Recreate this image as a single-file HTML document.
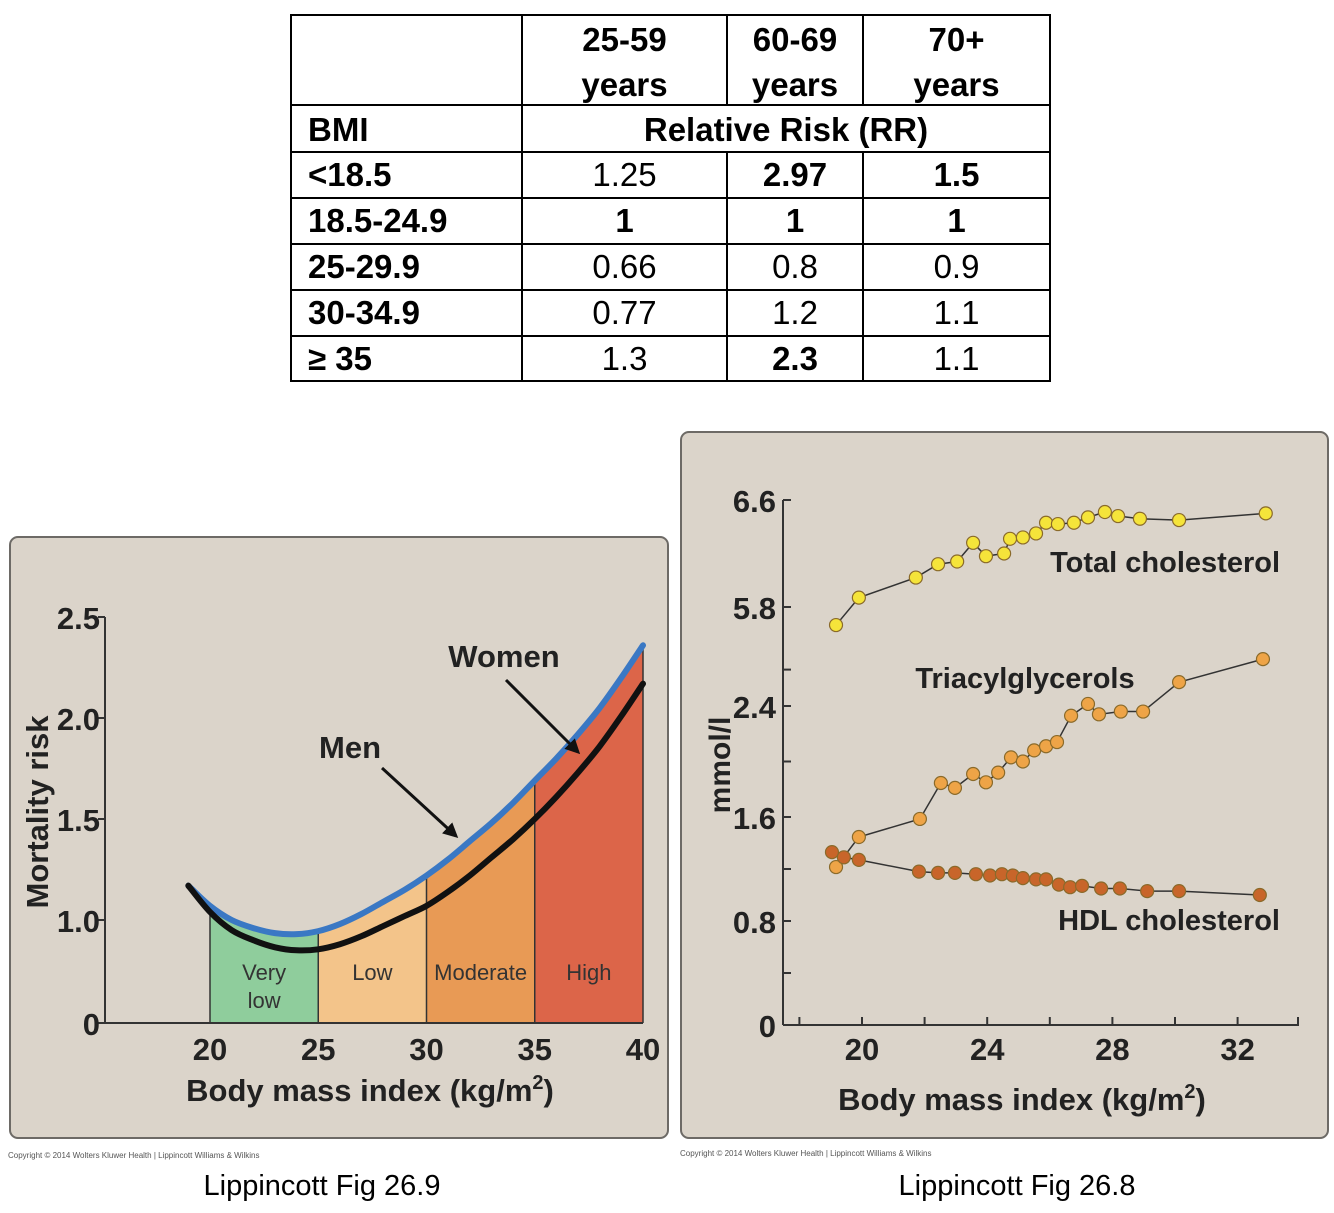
<!DOCTYPE html>
<html><head><meta charset="utf-8">
<style>
body{margin:0;background:#fff;width:1334px;height:1208px;overflow:hidden;font-family:"Liberation Sans",Arial,sans-serif}
svg text{font-family:"Liberation Sans",Arial,sans-serif}
</style></head>
<body>
<svg id="root" width="1334" height="1208" viewBox="0 0 1334 1208">
<g id="table"></g>
<g id="left"></g>
<g id="right"></g>
</svg>
<script>
// ---------- Table data ----------
const tableHeaders = ["25-59\nyears","60-69\nyears","70+\nyears"];
const tableRowLabels = ["<18.5","18.5-24.9","25-29.9","30-34.9","\u2265 35"];
const tableValues = [["1.25","2.97","1.5"],["1","1","1"],["0.66","0.8","0.9"],["0.77","1.2","1.1"],["1.3","2.3","1.1"]];
const tableBold = [[0,1,1],[1,1,1],[0,0,0],[0,0,0],[0,1,0]];

// ---------- Left chart data ----------
const bmiPoints = [19,20,21,22,23,24,25,26,27,28,29,30,31,32,33,34,35,36,37,38,39,40];
const womenRisk = [1.17,1.07,1.0,0.96,0.935,0.93,0.945,0.98,1.03,1.09,1.15,1.22,1.30,1.39,1.48,1.58,1.69,1.80,1.92,2.05,2.20,2.36];
const menRisk = [1.17,1.04,0.95,0.90,0.865,0.85,0.855,0.88,0.92,0.97,1.02,1.07,1.14,1.22,1.31,1.40,1.50,1.61,1.73,1.86,2.01,2.17];
const bandEdges = [20,25,30,35,40];
const bandLabels = [["Very","low"],["Low"],["Moderate"],["High"]];
const bandColors = ["#8fcd9c","#f3c48a","#e89a55","#dc6549"];
const leftYTicks = [0,1.0,1.5,2.0,2.5];
const leftYTickLabels = ["0","1.0","1.5","2.0","2.5"];
const leftXTicks = [20,25,30,35,40];

// ---------- Right chart data ----------
const totalBmi = [19.17,19.9,21.72,22.43,23.04,23.55,23.96,24.54,24.73,25.14,25.56,25.88,26.26,26.77,27.22,27.76,28.18,28.88,30.13,32.9];
const totalChol = [5.18,5.87,6.02,6.12,6.14,6.28,6.18,6.20,6.31,6.32,6.35,6.43,6.42,6.43,6.47,6.51,6.48,6.46,6.45,6.50];
const trigBmi = [19.17,19.9,21.85,22.52,22.97,23.55,23.96,24.35,24.76,25.14,25.5,25.88,26.23,26.68,27.22,27.57,28.27,28.98,30.13,32.81];
const trigVal = [1.215,1.446,1.585,1.845,1.81,1.91,1.85,1.92,2.03,2.00,2.08,2.11,2.14,2.33,2.47,2.34,2.36,2.36,3.22,4.01];
const hdlBmi = [19.04,19.42,19.9,21.82,22.43,22.97,23.64,24.09,24.47,24.82,25.14,25.56,25.88,26.29,26.65,27.03,27.64,28.24,29.11,30.13,32.71];
const hdlVal = [1.33,1.29,1.27,1.18,1.17,1.17,1.16,1.15,1.16,1.15,1.13,1.12,1.12,1.08,1.06,1.07,1.05,1.05,1.03,1.03,1.00];
const rightYTicks = [0,0.8,1.6,2.4,5.8,6.6];
const rightYTickLabels = ["0","0.8","1.6","2.4","5.8","6.6"];
const rightMinorTicks = [0.4,1.2,2.0,3.65];
const rightXTicks = [18,20,22,24,26,28,30,32];
const rightXLabels = [20,24,28,32];

const NS="http://www.w3.org/2000/svg";
function el(parent,tag,attrs,text){const e=document.createElementNS(NS,tag);for(const k in attrs)e.setAttribute(k,attrs[k]);if(text!==undefined)e.textContent=text;parent.appendChild(e);return e;}

// ---------- Table ----------
(function(){
const g=document.getElementById('table');
const cx=[291,522,727,863,1050];
const ry=[15,105,152,198,244,290,336,381];
el(g,'rect',{x:291,y:15,width:759,height:366,fill:'#fff',stroke:'#000','stroke-width':2});
for(let i=1;i<ry.length-1;i++){el(g,'line',{x1:291,x2:1050,y1:ry[i],y2:ry[i],stroke:'#000','stroke-width':2});}
el(g,'line',{x1:522,x2:522,y1:15,y2:381,stroke:'#000','stroke-width':2});
for(let j=2;j<4;j++){
  el(g,'line',{x1:cx[j],x2:cx[j],y1:15,y2:105,stroke:'#000','stroke-width':2});
  el(g,'line',{x1:cx[j],x2:cx[j],y1:152,y2:381,stroke:'#000','stroke-width':2});
}
tableHeaders.forEach((h,j)=>{
  const xm=(cx[j+1]+cx[j+2])/2;
  h.split("\n").forEach((ln,k)=>{
    const t=el(g,'text',{x:xm,y:51+k*45,'text-anchor':'middle','font-size':33,'font-weight':'bold'},ln);
    
    
  });
});
let t=el(g,'text',{x:308,y:141,'font-size':33,'font-weight':'bold'},"BMI");

t=el(g,'text',{x:786,y:141,'text-anchor':'middle','font-size':33,'font-weight':'bold'},"Relative Risk (RR)");

tableRowLabels.forEach((lab,i)=>{
  const y=ry[i+2]+34;
  const r=el(g,'text',{x:308,y:y,'font-size':33,'font-weight':'bold'},lab);
  
  tableValues[i].forEach((v,j)=>{
    const c=el(g,'text',{x:(cx[j+1]+cx[j+2])/2,y:y,'text-anchor':'middle','font-size':33,'font-weight':tableBold[i][j]?'bold':'normal'},v);
    
  });
});
})();

// ---------- Left chart ----------
(function(){
const g=document.getElementById('left');
el(g,'rect',{x:10,y:537,width:658,height:601,rx:8,fill:'#dbd4ca',stroke:'#6d6a66','stroke-width':2});
const xs=v=>210+(v-20)*21.65;
const ys=v=>v<=0?1023:920-(v-1)*202;
function interp(xa,ya,x){for(let i=0;i<xa.length-1;i++){if(x>=xa[i]&&x<=xa[i+1]){const t=(x-xa[i])/(xa[i+1]-xa[i]);return ya[i]+t*(ya[i+1]-ya[i]);}}return ya[ya.length-1];}
function smooth(xa,ya){const P=xa.map((x,i)=>[xs(x),ys(ya[i])]);let d=`M${P[0][0]},${P[0][1]}`;
 for(let i=0;i<P.length-1;i++){const p0=P[Math.max(0,i-1)],p1=P[i],p2=P[i+1],p3=P[Math.min(P.length-1,i+2)];
 d+=` C${p1[0]+(p2[0]-p0[0])/6},${p1[1]+(p2[1]-p0[1])/6} ${p2[0]-(p3[0]-p1[0])/6},${p2[1]-(p3[1]-p1[1])/6} ${p2[0]},${p2[1]}`;}return d;}
for(let b=0;b<bandEdges.length-1;b++){
  const a=bandEdges[b],c=bandEdges[b+1];let pts=[];
  for(let x=a;x<=c+1e-9;x+=0.25){pts.push(`${xs(x)},${ys(interp(bmiPoints,womenRisk,x))}`);}
  pts.push(`${xs(c)},1023`);pts.push(`${xs(a)},1023`);
  const p=el(g,'polygon',{points:pts.join(' '),fill:bandColors[b]});
  
  el(g,'line',{x1:xs(a),x2:xs(a),y1:ys(interp(bmiPoints,womenRisk,a)),y2:1023,stroke:'#333','stroke-width':1.5});
  const mid=(xs(a)+xs(c))/2;
  bandLabels[b].forEach((ln,k)=>{
    const tt=el(g,'text',{x:mid,y:980+k*28,'text-anchor':'middle','font-size':22,fill:'#333'},ln);
    
  });
}
el(g,'line',{x1:xs(40),x2:xs(40),y1:ys(womenRisk[womenRisk.length-1]),y2:1023,stroke:'#333','stroke-width':1.5});
el(g,'line',{x1:105,x2:105,y1:617,y2:1023,stroke:'#333','stroke-width':2});
el(g,'line',{x1:105,x2:643,y1:1023,y2:1023,stroke:'#333','stroke-width':2});
leftYTicks.forEach((v,i)=>{
  el(g,'line',{x1:98,x2:105,y1:ys(v),y2:ys(v),stroke:'#333','stroke-width':2});
  const tt=el(g,'text',{x:100,y:ys(v)+12,'text-anchor':'end','font-size':31,'font-weight':'bold',fill:'#222'},leftYTickLabels[i]);
  
});
leftXTicks.forEach(v=>{
  const tt=el(g,'text',{x:xs(v),y:1060,'text-anchor':'middle','font-size':31,'font-weight':'bold',fill:'#222'},String(v));
  
});
let tt=el(g,'text',{x:370,y:1101,'text-anchor':'middle','font-size':31,'font-weight':'bold',fill:'#222'},"Body mass index (kg/m");

el(tt,'tspan',{'font-size':20,dy:-12},"2");el(tt,'tspan',{dy:12},")");
tt=el(g,'text',{x:0,y:0,'text-anchor':'middle','font-size':31,'font-weight':'bold',fill:'#222',transform:'translate(48,812) rotate(-90)'},"Mortality risk");

let w=el(g,'path',{d:smooth(bmiPoints,womenRisk),fill:'none',stroke:'#3a78c4','stroke-width':6,'stroke-linecap':'round'});

let m=el(g,'path',{d:smooth(bmiPoints,menRisk),fill:'none',stroke:'#111','stroke-width':6,'stroke-linecap':'round'});

tt=el(g,'text',{x:350,y:758,'text-anchor':'middle','font-size':31,'font-weight':'bold',fill:'#222'},"Men");

tt=el(g,'text',{x:504,y:667,'text-anchor':'middle','font-size':31,'font-weight':'bold',fill:'#222'},"Women");

el(g,'defs',{}).innerHTML='<marker id="ah" viewBox="0 0 10 10" refX="8" refY="5" markerWidth="5" markerHeight="5" orient="auto"><path d="M0,0L10,5L0,10z" fill="#111"/></marker>';
el(g,'line',{x1:382,y1:768,x2:456,y2:836,stroke:'#111','stroke-width':3,'marker-end':'url(#ah)'});
el(g,'line',{x1:506,y1:680,x2:578,y2:752,stroke:'#111','stroke-width':3,'marker-end':'url(#ah)'});
tt=el(g,'text',{x:8,y:1158,'font-size':8,fill:'#555'},"Copyright \u00a9 2014 Wolters Kluwer Health | Lippincott Williams & Wilkins");

tt=el(g,'text',{x:322,y:1195,'text-anchor':'middle','font-size':29,fill:'#000'},"Lippincott Fig 26.9");

})();

// ---------- Right chart ----------
(function(){
const g=document.getElementById('right');
el(g,'rect',{x:681,y:432,width:647,height:706,rx:8,fill:'#dbd4ca',stroke:'#6d6a66','stroke-width':2});
const xs=v=>862+(v-20)*31.3;
const tv=[0,0.8,1.6,2.4,5.8,6.6],tp=[1025,921,817,706,607,500];
const ys=v=>{for(let i=0;i<tv.length-1;i++){if(v<=tv[i+1]||i==tv.length-2){const t=(v-tv[i])/(tv[i+1]-tv[i]);return tp[i]+t*(tp[i+1]-tp[i]);}}};
el(g,'line',{x1:783,x2:783,y1:500,y2:1025,stroke:'#333','stroke-width':2});
el(g,'line',{x1:783,x2:1299,y1:1025,y2:1025,stroke:'#333','stroke-width':2});
rightYTicks.forEach((v,i)=>{
  el(g,'line',{x1:783,x2:791,y1:ys(v),y2:ys(v),stroke:'#333','stroke-width':2});
  const tt=el(g,'text',{x:776,y:ys(v)+12,'text-anchor':'end','font-size':31,'font-weight':'bold',fill:'#222'},rightYTickLabels[i]);
  
});
rightMinorTicks.forEach(v=>{el(g,'line',{x1:783,x2:791,y1:ys(v),y2:ys(v),stroke:'#333','stroke-width':2});});
rightXTicks.forEach(v=>{el(g,'line',{x1:xs(v),x2:xs(v),y1:1017,y2:1025,stroke:'#333','stroke-width':2});});
el(g,'line',{x1:1298,x2:1298,y1:1017,y2:1025,stroke:'#333','stroke-width':2});
rightXLabels.forEach(v=>{
  const tt=el(g,'text',{x:xs(v),y:1060,'text-anchor':'middle','font-size':31,'font-weight':'bold',fill:'#222'},String(v));
  
});
let tt=el(g,'text',{x:1022,y:1110,'text-anchor':'middle','font-size':31,'font-weight':'bold',fill:'#222'},"Body mass index (kg/m");

el(tt,'tspan',{'font-size':20,dy:-12},"2");el(tt,'tspan',{dy:12},")");
tt=el(g,'text',{x:0,y:0,'text-anchor':'middle','font-size':30,'font-weight':'bold',fill:'#222',transform:'translate(730,765) rotate(-90)'},"mmol/l");

function series(xa,ya,fill,name){
  const pts=xa.map((x,i)=>`${xs(x)},${ys(ya[i])}`).join(' ');
  const l=el(g,'polyline',{points:pts,fill:'none',stroke:'#333','stroke-width':1.5});
  
  xa.forEach((x,i)=>{
    const c=el(g,'circle',{cx:xs(x),cy:ys(ya[i]),r:6.5,fill:fill,stroke:'#8a6a2a','stroke-width':1.2});
    
  });
}
series(totalBmi,totalChol,'#f5e43a','total-cholesterol');
series(trigBmi,trigVal,'#eea447','triacylglycerols');
series(hdlBmi,hdlVal,'#c8652a','hdl-cholesterol');
tt=el(g,'text',{x:1280,y:572,'text-anchor':'end','font-size':29,'font-weight':'bold',fill:'#222'},"Total cholesterol");

tt=el(g,'text',{x:1025,y:688,'text-anchor':'middle','font-size':29,'font-weight':'bold',fill:'#222'},"Triacylglycerols");

tt=el(g,'text',{x:1280,y:930,'text-anchor':'end','font-size':29,'font-weight':'bold',fill:'#222'},"HDL cholesterol");

tt=el(g,'text',{x:680,y:1156,'font-size':8,fill:'#555'},"Copyright \u00a9 2014 Wolters Kluwer Health | Lippincott Williams & Wilkins");

tt=el(g,'text',{x:1017,y:1195,'text-anchor':'middle','font-size':29,fill:'#000'},"Lippincott Fig 26.8");

})();
</script>
</body></html>
